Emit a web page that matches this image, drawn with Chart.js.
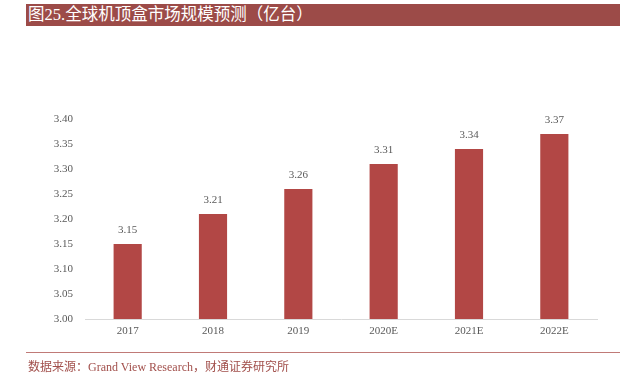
<!DOCTYPE html>
<html>
<head>
<meta charset="utf-8">
<script src="https://cdn.jsdelivr.net/npm/chart.js@4/dist/chart.umd.min.js"></script>
<style>
  body { margin: 0; background: #fff; width: 623px; height: 375px; overflow: hidden; position: relative; }
  #title {
    position: absolute; left: 26px; top: 4px; width: 594px; height: 22px;
    background: #9c4b48; color: #fff;
    font-family: "Liberation Serif", "Noto Sans CJK SC", serif; font-size: 16.5px;
    line-height: 22px; padding-left: 2px; box-sizing: border-box;
  }
  #foot-line { position: absolute; left: 26px; top: 352px; width: 594px; height: 1px; background: #c07a77; }
  #source {
    position: absolute; left: 28px; top: 357px;
    font-family: "Liberation Serif", "Noto Sans CJK SC", serif; font-size: 12px; color: #a2504c;
  }
  #wrap { position: absolute; left: 0; top: 0; width: 623px; height: 375px; }
</style>
</head>
<body>
<div id="wrap"><canvas id="c"></canvas></div>
<div id="title">图25.全球机顶盒市场规模预测（亿台）</div>
<div id="foot-line"></div>
<div id="source">数据来源：Grand View Research，财通证券研究所</div>
<script>
const years = ["2017", "2018", "2019", "2020E", "2021E", "2022E"];
const sizes = [3.15, 3.21, 3.26, 3.31, 3.34, 3.37];

const valueLabels = {
  id: "valueLabels",
  afterDatasetsDraw(chart) {
    const ctx = chart.ctx;
    const meta = chart.getDatasetMeta(0);
    ctx.save();
    ctx.font = "11px 'Liberation Serif'";
    ctx.fillStyle = "#595959";
    ctx.textAlign = "center";
    ctx.textBaseline = "bottom";
    meta.data.forEach((bar, i) => {
      ctx.fillText(sizes[i].toFixed(2), bar.x, bar.y - 8);
    });
    ctx.restore();
  }
};

new Chart(document.getElementById("c"), {
  type: "bar",
  data: {
    labels: years,
    datasets: [{
      data: sizes,
      backgroundColor: "#b24745",
      barPercentage: 0.66,
      categoryPercentage: 0.5
    }]
  },
  options: {
    responsive: true,
    maintainAspectRatio: false,
    animation: false,
    layout: { padding: { top: 119, right: 26, bottom: 32, left: 0 } },
    plugins: { legend: { display: false }, tooltip: { enabled: false } },
    scales: {
      x: {
        grid: { display: false, drawTicks: false },
        border: { color: "#d9d9d9" },
        ticks: { color: "#595959", font: { family: "Liberation Serif", size: 11 }, padding: 6 },
        afterFit(s) { s.height = 24; }
      },
      y: {
        min: 3.0,
        max: 3.4,
        grid: { display: false, drawTicks: false },
        border: { display: false },
        ticks: {
          stepSize: 0.05,
          color: "#595959",
          font: { family: "Liberation Serif", size: 11 },
          padding: 12,
          callback: v => v.toFixed(2)
        },
        afterFit(s) { s.width = 85; }
      }
    }
  },
  plugins: [valueLabels]
});
</script>
</body>
</html>
